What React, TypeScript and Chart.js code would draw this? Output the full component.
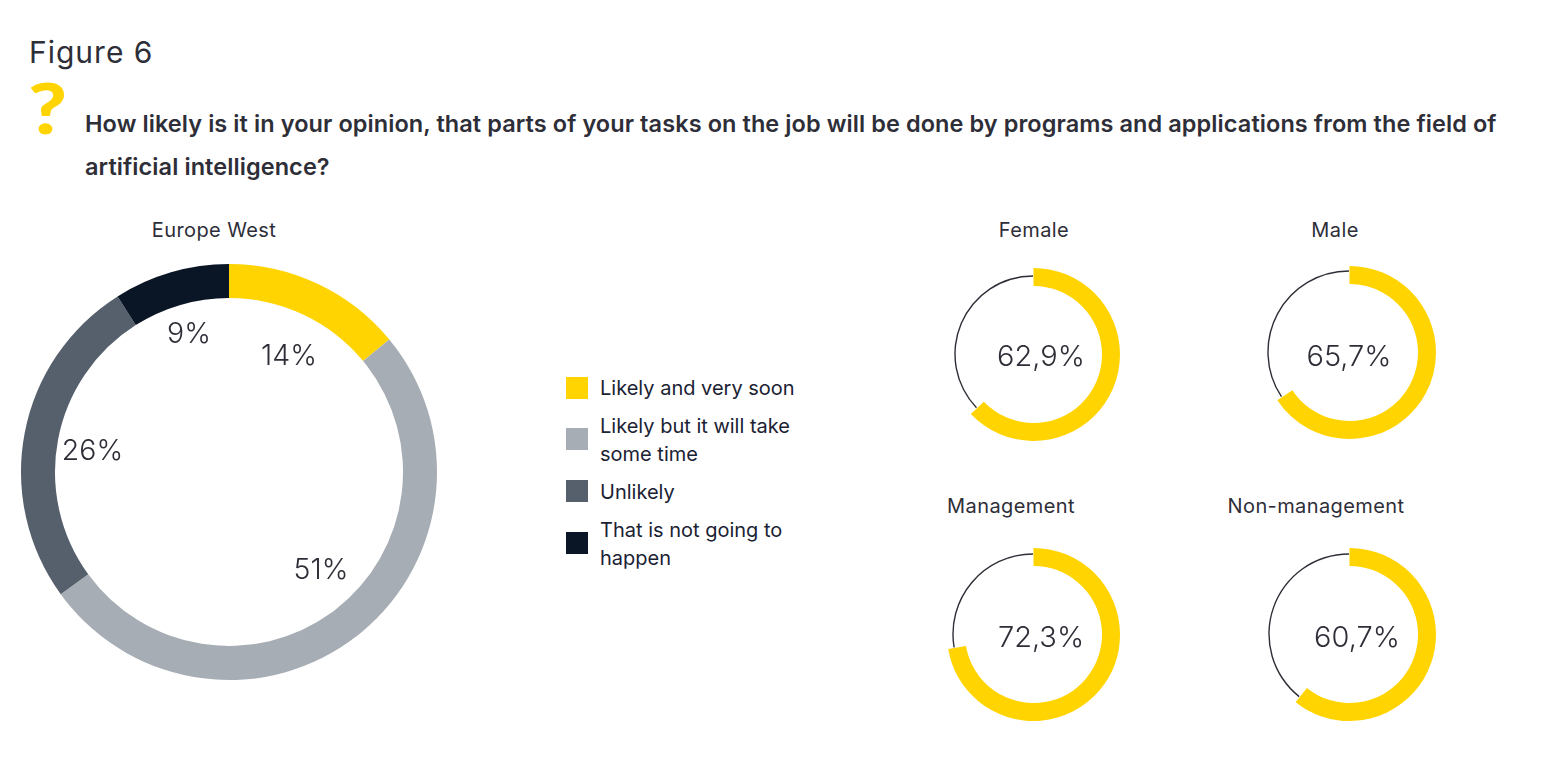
import React, { useEffect, useRef } from "react";
import { Chart, registerables } from "chart.js";

Chart.register(...registerables);

const breakdownLabels = ["Likely and very soon", "Likely but it will take some time", "Unlikely", "That is not going to happen"];
const breakdownValues = [14, 51, 26, 9];
const breakdownColors = ["#FFD400", "#A7ADB4", "#56606C", "#0A1526"];

const groupNames = ["Female", "Male", "Management", "Non-management"];
const groupLikely = [62.9, 65.7, 72.3, 60.7];
const groupText = ["62,9%", "65,7%", "72,3%", "60,7%"];

const INK = "#2E2E38";
const FONT = "Inter, 'Noto Sans', sans-serif";

function Ring(props: { cx: number; cy: number; radius: number; inner: number; data: number[]; colors: string[] }) {
  const ref = useRef<HTMLCanvasElement | null>(null);
  const size = Math.ceil(props.radius * 2) + 8;
  useEffect(() => {
    const chart = new Chart(ref.current as HTMLCanvasElement, {
      type: "doughnut",
      data: {
        labels: props.data.map((_, i) => String(i)),
        datasets: [{ data: props.data, backgroundColor: props.colors, borderWidth: 0 }],
      },
      options: {
        responsive: false,
        animation: false,
        radius: props.radius,
        cutout: `${(props.inner / props.radius) * 100}%`,
        layout: { padding: 0 },
        plugins: { legend: { display: false }, tooltip: { enabled: false } },
      } as any,
    });
    return () => chart.destroy();
  }, []);
  return (
    <canvas
      ref={ref}
      width={size}
      height={size}
      style={{ position: "absolute", left: props.cx - size / 2, top: props.cy - size / 2, width: size, height: size }}
    />
  );
}

function Label(props: { x: number; y: number; size: number; children: React.ReactNode; weight?: number; spacing?: number; color?: string; anchor?: "left" | "center"; family?: string; stretch?: number }) {
  return (
    <div
      style={{
        position: "absolute",
        left: props.x,
        top: props.y,
        transform: `translate(${props.anchor === "center" ? "-50%" : "0"}, -50%) scaleX(${props.stretch ?? 1})`,
        transformOrigin: "left center",
        fontFamily: props.family ?? FONT,
        fontSize: props.size,
        fontWeight: props.weight ?? 400,
        letterSpacing: props.spacing ?? 0,
        color: props.color ?? INK,
        lineHeight: 1,
        whiteSpace: "nowrap",
      }}
    >
      {props.children}
    </div>
  );
}

const groupSpots = [
  { cx: 1033, cy: 354, lineCx: 1033, lineCy: 354, lineR: 78, tx: 1041, ty: 355, nx: 1034, ny: 230 },
  { cx: 1349, cy: 352, lineCx: 1349, lineCy: 352, lineR: 81, tx: 1349, ty: 355, nx: 1335, ny: 230 },
  { cx: 1033, cy: 634, lineCx: 1033, lineCy: 634, lineR: 80, tx: 1041, ty: 636, nx: 1011, ny: 506 },
  { cx: 1349, cy: 634, lineCx: 1349, lineCy: 634, lineR: 80, tx: 1357, ty: 636, nx: 1316, ny: 506 },
];

const legendRows = [
  { swatchY: 388, lines: [breakdownLabels[0]], ys: [388] },
  { swatchY: 439, lines: ["Likely but it will take", "some time"], ys: [426, 454] },
  { swatchY: 491, lines: [breakdownLabels[2]], ys: [492] },
  { swatchY: 543, lines: ["That is not going to", "happen"], ys: [530, 558] },
];

const mainLabels = [
  { x: 289, y: 355 },
  { x: 321, y: 569 },
  { x: 92.5, y: 450 },
  { x: 189, y: 333 },
];

export default function App() {
  document.body.style.margin = "0";
  return (
    <div style={{ position: "relative", width: 1554, height: 772, background: "#fff", overflow: "hidden" }}>
      <Label x={29} y={52} size={30} spacing={1}>Figure 6</Label>
      <Label x={28} y={107} size={70} weight={900} color="#FFD400" family="Lato, sans-serif" stretch={1.2}>?</Label>
      <Label x={85} y={124} size={23.5} weight={600} spacing={0.08}>
        How likely is it in your opinion, that parts of your tasks on the job will be done by programs and applications from the field of
      </Label>
      <Label x={85} y={167} size={23.5} weight={600} spacing={0.08}>artificial intelligence?</Label>

      <Label x={214} y={230} size={20} anchor="center" spacing={0.4}>Europe West</Label>
      <Ring cx={229} cy={472} radius={208} inner={174} data={breakdownValues} colors={breakdownColors} />
      {breakdownValues.map((v, i) => (
        <Label key={i} x={mainLabels[i].x} y={mainLabels[i].y} size={28.5} anchor="center" weight={300}>{v}%</Label>
      ))}

      {legendRows.map((row, i) => (
        <React.Fragment key={i}>
          <div style={{ position: "absolute", left: 566, top: row.swatchY - 11, width: 22, height: 22, background: breakdownColors[i] }} />
          {row.lines.map((line, j) => (
            <Label key={j} x={600} y={row.ys[j]} size={20} color="#1A2233">{line}</Label>
          ))}
        </React.Fragment>
      ))}

      {groupNames.map((name, i) => {
        const s = groupSpots[i];
        const rest = 100 - groupLikely[i];
        return (
          <React.Fragment key={name}>
            <Label x={s.nx} y={s.ny} size={20} anchor="center" spacing={0.4}>{name}</Label>
            <Ring cx={s.lineCx} cy={s.lineCy} radius={s.lineR + 0.7} inner={s.lineR - 0.7} data={[groupLikely[i], rest]} colors={["rgba(0,0,0,0)", INK]} />
            <Ring cx={s.cx} cy={s.cy} radius={86.5} inner={68.5} data={[groupLikely[i], rest]} colors={["#FFD400", "rgba(0,0,0,0)"]} />
            <Label x={s.tx} y={s.ty} size={29} anchor="center" weight={300}>{groupText[i]}</Label>
          </React.Fragment>
        );
      })}
    </div>
  );
}
